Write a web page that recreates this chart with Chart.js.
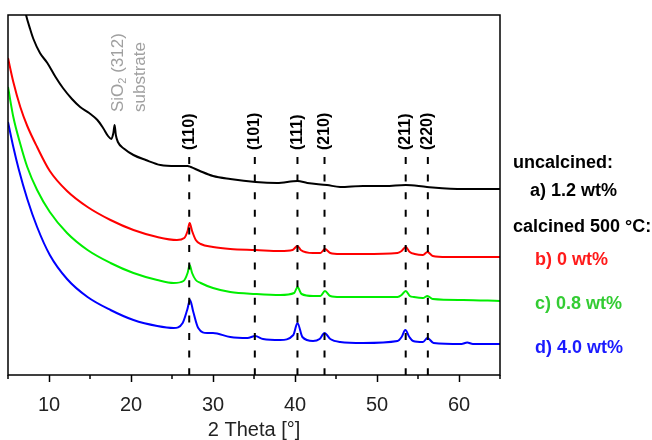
<!DOCTYPE html>
<html>
<head>
<meta charset="utf-8">
<script src="https://cdn.jsdelivr.net/npm/chart.js@4"></script>
<style>
html, body { margin: 0; padding: 0; background: #fff; }
canvas { display: block; }
</style>
</head>
<body>
<canvas id="xrd" width="652" height="440"></canvas>
<script>
// a) uncalcined 1.2 wt% (black)
const blackX = [6.9, 7.2, 7.7, 8.1, 8.9, 9.8, 10.8, 11.7, 12.8, 13.8, 14.9, 15.9, 16.6, 17.2, 17.6, 17.85, 18.0, 18.15, 18.4, 19.2, 20.3, 21.8, 23.6, 25.5, 26.9, 27.3, 28.4, 30.0, 32.1, 35.2, 37.8, 40.3, 41.5, 43.9, 45.5, 48.3, 51.0, 53.5, 56.1, 60.5, 65]
const blackY = [372, 360, 346, 336, 322, 312, 298, 287, 276, 268, 262, 255, 247, 239, 236, 242, 250, 240, 233, 226, 220, 215, 210, 209, 209, 208, 204, 199, 196, 193, 192, 194, 192, 190, 188, 189, 189, 190, 188, 186, 186]

// b) calcined 0 wt% (red)
const redX = [5, 5.65, 6.5, 7.35, 8.55, 10.1, 12.2, 14.7, 17.5, 20.3, 23.2, 25.6, 26.5, 26.9, 27.15, 27.45, 27.9, 28.5, 30.0, 32.1, 35.2, 38.2, 39.7, 40.3, 40.7, 42.2, 43.1, 43.65, 44.3, 45.5, 48.3, 52.5, 53.0, 53.5, 54.0, 54.6, 55.6, 56.15, 56.8, 58.5, 60.5, 65]
const redY = [317, 293, 268, 249, 228, 204, 184, 168, 155, 145, 138, 135, 137, 144, 152, 144, 135, 131, 128, 126, 125, 124, 125, 129, 125, 122, 122, 126, 122, 121, 121, 122, 124, 128, 123, 121, 120, 123, 119, 118, 118, 118]

// c) calcined 0.8 wt% (green)
const greenX = [5, 5.65, 6.5, 7.35, 8.55, 10.1, 12.2, 14.7, 17.5, 20.3, 23.2, 25.2, 26.4, 26.9, 27.15, 27.45, 27.9, 28.5, 30.0, 32.1, 35.2, 38.2, 39.9, 40.3, 40.8, 42.2, 43.1, 43.65, 44.3, 45.5, 48.3, 52.5, 53.0, 53.5, 54.0, 54.5, 55.6, 56.15, 56.8, 60.5, 65]
const greenY = [288, 258, 231, 208, 185, 163, 142, 125, 112, 102, 95, 92, 94, 102, 110, 102, 95, 92, 87, 83, 81, 80, 82, 88, 81, 79, 79, 84, 79, 78, 78, 78, 80, 84, 79, 78, 77, 79, 76, 75, 74]

// d) calcined 4.0 wt% (blue)
const blueX = [5, 5.65, 6.3, 7.35, 8.55, 10.1, 12.2, 14.7, 17.5, 20.3, 23.2, 25.2, 26.3, 26.85, 27.2, 27.6, 28.2, 29.3, 30.0, 32.1, 34.2, 35.15, 36.1, 38.2, 39.8, 40.3, 40.9, 42.2, 43.0, 43.6, 44.3, 45.5, 48.3, 52.5, 53.0, 53.45, 53.95, 54.4, 55.6, 56.15, 56.9, 60.3, 61.0, 61.7, 65]
const blueY = [253, 228, 206, 176, 148, 120, 96, 78, 65, 55, 49, 47, 52, 65, 75, 63, 47, 42, 42, 38, 37, 39, 36, 35, 40, 52, 38, 34, 36, 42, 36, 33, 32, 34, 38, 45, 38, 34, 33, 37, 32, 31, 32.5, 31, 31]

// reflex positions (dashed guides)
const peakPos = [27.1, 35.1, 40.3, 43.6, 53.5, 56.2]
const peakLabels = ['(110)', '(101)', '(111)', '(210)', '(211)', '(220)']
const dashTop = 218

const majorTicks = [10, 20, 30, 40, 50, 60]
const minorTicks = [5, 15, 25, 35, 45, 55, 65]

const legendTexts = ['uncalcined:', 'a) 1.2 wt%', 'calcined 500 °C:', 'b) 0 wt%', 'c) 0.8 wt%', 'd) 4.0 wt%']
const legendColors = ['#000', '#000', '#000', '#ff1a1a', '#33cc33', '#1a1aff']
const legendX = [513, 530, 513, 535, 535, 535]
const legendY = [163, 191, 227, 260, 304, 348]

const sio2Pos = 18.45
const FONT = '"Liberation Sans", Arial, sans-serif'

function toPoints(xs, ys) {
    return xs.map((x, i) => ({x: x, y: ys[i]}))
}

function curve(xs, ys, color) {
    return {
        data: toPoints(xs, ys),
        borderColor: color,
        borderWidth: 2,
        pointRadius: 0,
        cubicInterpolationMode: 'monotone',
        order: 1
    }
}

// dashed guides drawn from the top down so both ends carry a dash
const datasets = peakPos.map(p => ({
    data: [{x: p, y: dashTop}, {x: p, y: 0}],
    borderColor: '#000',
    borderWidth: 2,
    borderDash: [7, 10.6],
    pointRadius: 0,
    order: 0
}))
datasets.push(curve(blackX, blackY, '#000000'))
datasets.push(curve(redX, redY, '#ff0000'))
datasets.push(curve(greenX, greenY, '#00ee00'))
datasets.push(curve(blueX, blueY, '#0000ff'))

const extras = {
    id: 'extras',
    afterDraw(chart) {
        const ctx = chart.ctx
        const a = chart.chartArea
        const xs = chart.scales.x
        const ys = chart.scales.y
        ctx.save()
        // frame
        ctx.strokeStyle = '#000'
        ctx.lineWidth = 1.5
        ctx.strokeRect(a.left, a.top, a.right - a.left, a.bottom - a.top)
        // minor ticks
        minorTicks.forEach(v => {
            const px = xs.getPixelForValue(v)
            ctx.beginPath()
            ctx.moveTo(px, a.bottom)
            ctx.lineTo(px, a.bottom + 4)
            ctx.stroke()
        })
        // reflex labels
        ctx.fillStyle = '#000'
        ctx.font = 'bold 16px ' + FONT
        ctx.textBaseline = 'middle'
        ctx.textAlign = 'left'
        const labelBottom = ys.getPixelForValue(dashTop) - 7
        peakPos.forEach((p, i) => {
            ctx.save()
            ctx.translate(xs.getPixelForValue(p), labelBottom)
            ctx.rotate(-Math.PI / 2)
            ctx.fillText(peakLabels[i], 0, 0)
            ctx.restore()
        })
        // substrate label
        ctx.fillStyle = '#a0a0a0'
        const sx = xs.getPixelForValue(sio2Pos)
        ctx.save()
        ctx.translate(sx, 112)
        ctx.rotate(-Math.PI / 2)
        ctx.font = '17px ' + FONT
        ctx.fillText('SiO', 0, 0)
        let w = ctx.measureText('SiO').width
        ctx.font = '11px ' + FONT
        ctx.fillText('2', w, 5)
        w += ctx.measureText('2').width
        ctx.font = '17px ' + FONT
        ctx.fillText(' (312)', w, 0)
        ctx.fillText('substrate', 0, 22)
        ctx.restore()
        // legend text
        ctx.font = 'bold 18px ' + FONT
        legendTexts.forEach((t, i) => {
            ctx.fillStyle = legendColors[i]
            ctx.fillText(t, legendX[i], legendY[i])
        })
        ctx.restore()
    }
}

new Chart(document.getElementById('xrd'), {
    type: 'line',
    data: {datasets: datasets},
    options: {
        responsive: false,
        animation: false,
        devicePixelRatio: 1,
        layout: {padding: {left: 8, right: 152, top: 15, bottom: 0}},
        plugins: {legend: {display: false}, tooltip: {enabled: false}},
        scales: {
            x: {
                type: 'linear',
                min: 5,
                max: 65,
                afterBuildTicks: s => { s.ticks = majorTicks.map(v => ({value: v})) },
                afterFit: s => { s.height = 65 },
                border: {display: false},
                grid: {drawOnChartArea: false, tickLength: 7, tickWidth: 1.5, tickColor: '#000'},
                ticks: {autoSkip: false, maxRotation: 0, padding: 11, color: '#222', font: {size: 20, family: FONT}},
                title: {display: true, text: '2 Theta [°]', color: '#222', padding: {top: 0, bottom: 0}, font: {size: 20, family: FONT, lineHeight: 1.0}}
            },
            y: {
                display: false,
                min: 0,
                max: 360
            }
        }
    },
    plugins: [extras]
})
</script>
</body>
</html>
